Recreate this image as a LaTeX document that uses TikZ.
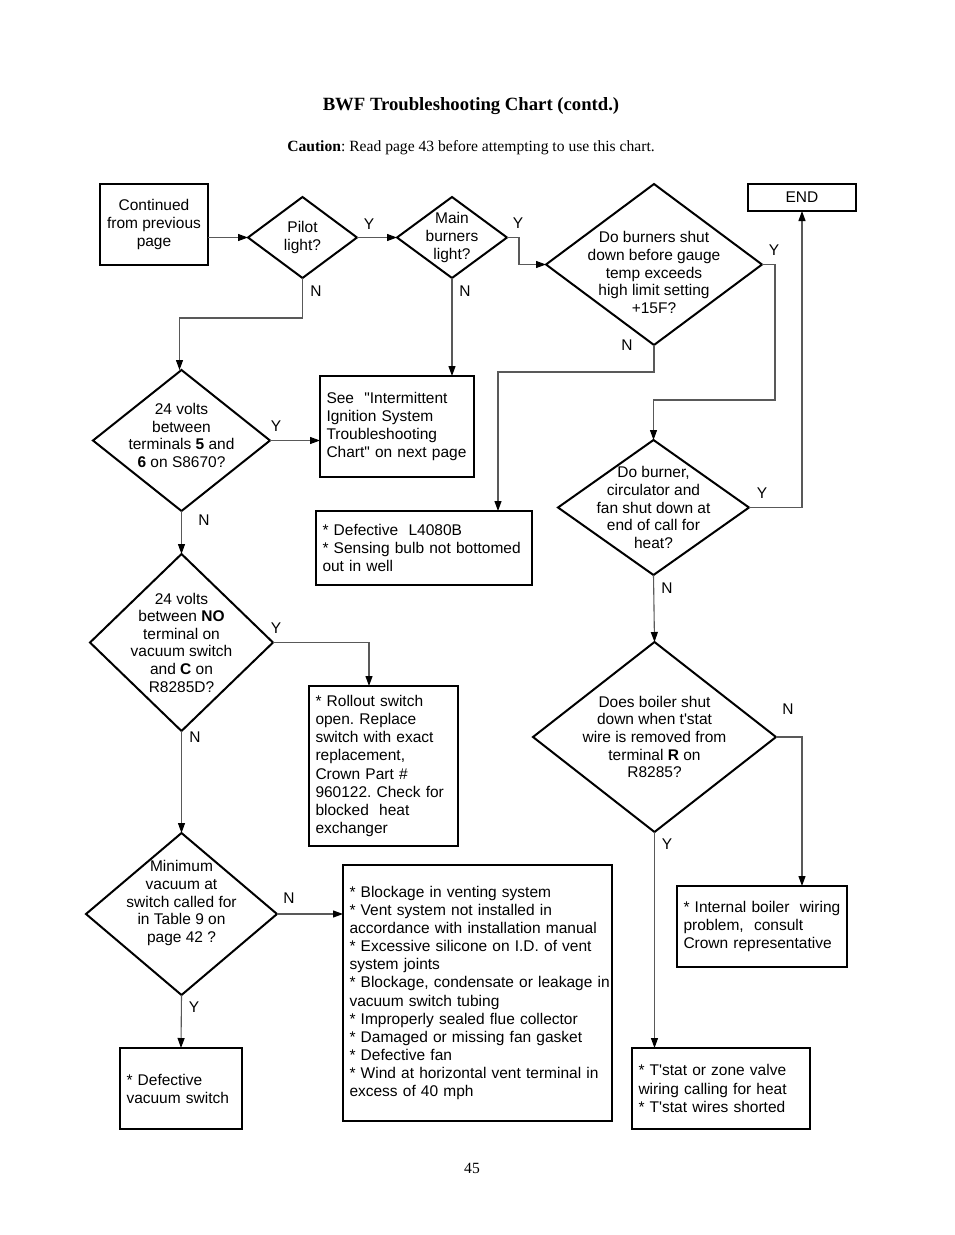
\documentclass[tikz,border=0pt]{standalone}
\usepackage{fontspec}
\setmainfont{Liberation Serif}
\setsansfont{Liberation Sans}[Ligatures=TeXOff]
\usetikzlibrary{arrows.meta,shapes.geometric}
\frenchspacing

\begin{document}
\begin{tikzpicture}[
    x=1pt, y=-1pt,
    every node/.style={font=\sffamily\fontsize{15.5}{17.6}\selectfont},
    startbox/.style={draw, line width=2pt, outer sep=0pt, align=center},
    decision/.style={draw, diamond, line width=2pt, inner sep=0pt, outer sep=0pt},
    qtext/.style={align=center, inner sep=0pt},
    note/.style={draw, line width=2pt, inner xsep=6.5pt, inner ysep=0pt, outer sep=0pt, align=left,
        font=\sffamily\fontsize{15.5}{18.1}\selectfont},
    yn/.style={inner sep=0pt},
    link/.style={-{Triangle[length=10pt,width=7pt,color=black]}, line width=1.1pt, draw=black!65}
]
\fill[white] (0,0) rectangle (954,1235);

% heading
\node[font=\rmfamily\bfseries\fontsize{18.7}{21}\selectfont] (title) at (471,106) {BWF Troubleshooting Chart (contd.)};
\node[font=\rmfamily\fontsize{15.6}{18}\selectfont] (caution) at (471,148) {\textbf{Caution}: Read page 43 before attempting to use this chart.};
\node[font=\rmfamily\fontsize{15.6}{18}\selectfont] (pageno) at (472,1168) {45};

% top row
\node[startbox, minimum width=108, minimum height=81] (cont) at (154,224.5) {Continued\\from previous\\page};
\node[decision, minimum width=109, minimum height=81, label={[qtext]center:{Pilot\\light?}}] (pilot) at (302.5,237.5) {};
\node[decision, minimum width=110, minimum height=81, label={[qtext]center:{Main\\burners\\light?}}] (main) at (452,237.5) {};
\node[decision, minimum width=216, minimum height=161, label={[qtext, yshift=-8pt]center:{Do burners shut\\down before gauge\\temp exceeds\\high limit setting\\+15F?}}] (burners) at (654,264.5) {};
\node[startbox, minimum width=108, minimum height=27, inner sep=0pt] (endbox) at (802,197.5) {END};

% left column
\node[decision, minimum width=177, minimum height=141, label={[qtext, yshift=5pt]center:{24 volts\\between\\terminals \textbf{5} and\\\textbf{6} on S8670?}}] (volts) at (181.5,440.5) {};
\node[decision, minimum width=183, minimum height=177, label={[qtext]center:{24 volts\\between \textbf{NO}\\terminal on\\vacuum switch\\and \textbf{C} on\\R8285D?}}] (novolts) at (181.5,642.5) {};
\node[decision, minimum width=191, minimum height=162, label={[qtext, yshift=11pt]center:{Minimum\\vacuum at\\switch called for\\in Table 9 on\\page 42 ?}}] (vacuum) at (181.5,914) {};
\node[note, text width=109, minimum height=81] (vswitch) at (181,1088.5) {* Defective\\vacuum switch};

% middle column
\node[note, text width=141, minimum height=101] (see) at (397,426.5) {See~ "Intermittent\\Ignition System\\Troubleshooting\\Chart" on next page};
\node[note, text width=203, minimum height=74] (l4080) at (424,548) {* Defective~ L4080B\\{}* Sensing bulb not bottomed\\out in well};
\node[note, text width=136, minimum height=160] (rollout) at (383.5,766) {* Rollout switch\\open. Replace\\switch with exact\\replacement,\\Crown Part \#\\960122. Check for\\blocked~ heat\\exchanger};
\node[note, text width=256, minimum height=256] (causes) at (477.5,993) {* Blockage in venting system\\{}* Vent system not installed in\\accordance with installation manual\\{}* Excessive silicone on I.D. of vent\\system joints\\\mbox{* Blockage, condensate or leakage in}\\vacuum switch tubing\\{}* Improperly sealed flue collector\\{}* Damaged or missing fan gasket\\{}* Defective fan\\{}* Wind at horizontal vent terminal in\\excess of 40 mph};

% right column
\node[decision, minimum width=191, minimum height=135, label={[qtext]center:{Do burner,\\circulator and\\fan shut down at\\end of call for\\heat?}}] (cycle) at (653.5,507.5) {};
\node[decision, minimum width=243, minimum height=190, label={[qtext]center:{Does boiler shut\\down when t'stat\\wire is removed from\\terminal \textbf{R} on\\R8285?}}] (boiler) at (654.5,737) {};
\node[note, text width=157, minimum height=81] (internal) at (762,926.5) {* Internal boiler~ wiring\\problem,~ consult\\Crown representative};
\node[note, text width=165, minimum height=81] (tstat) at (721,1088.5) {* T'stat or zone valve\\wiring calling for heat\\{}* T'stat wires shorted};

% connectors
\draw[link] (cont.east |- pilot.west) -- (pilot.west);
\draw[link] (pilot.east) -- (main.west);
\draw[link] (main.east) -- ++(12,0) |- (burners.west);
\draw[link] (burners.east) -- ++(13,0) |- ([yshift=40pt]cycle.north) -- (cycle.north);
\draw[link] (burners.south) -- ++(0,27) -| ([xshift=74pt]l4080.north);
\draw[link] (pilot.south) -- ++(0,40) -| ([xshift=-2pt]volts.north);
\draw[link] (main.south) -- (main.south |- see.north);
\draw[link] (volts.east) -- (volts.east -| see.west);
\draw[link] (volts.south) -- (novolts.north);
\draw[link] (cycle.east) -| (endbox.south);
\draw[link] (cycle.south) -- (boiler.north);
\draw[link] (novolts.east) -| ([xshift=-14.5pt]rollout.north);
\draw[link] (novolts.south) -- (vacuum.north);
\draw[link] (boiler.east) -| ([xshift=40pt]internal.north);
\draw[link] (boiler.south) -- (boiler.south |- tstat.north);
\draw[link] (vacuum.east) -- (vacuum.east -| causes.west);
\draw[link] (vacuum.south) -- (vswitch.north);

% Y / N marks
\node[yn] (yPilot) at (369,224) {Y};
\node[yn] (nPilot) at (316,291) {N};
\node[yn] (yMain) at (518,223) {Y};
\node[yn] (nMain) at (465,291) {N};
\node[yn] (yBurners) at (774,250) {Y};
\node[yn] (nBurners) at (627,345) {N};
\node[yn] (yVolts) at (276,426) {Y};
\node[yn] (nVolts) at (204,520) {N};
\node[yn] (yCycle) at (762,493) {Y};
\node[yn] (nCycle) at (667,588) {N};
\node[yn] (yNovolts) at (276,628) {Y};
\node[yn] (nNovolts) at (195,737) {N};
\node[yn] (nBoiler) at (788,709) {N};
\node[yn] (yBoiler) at (667,844) {Y};
\node[yn] (nVacuum) at (289,898) {N};
\node[yn] (yVacuum) at (194,1007) {Y};
\end{tikzpicture}
\end{document}
